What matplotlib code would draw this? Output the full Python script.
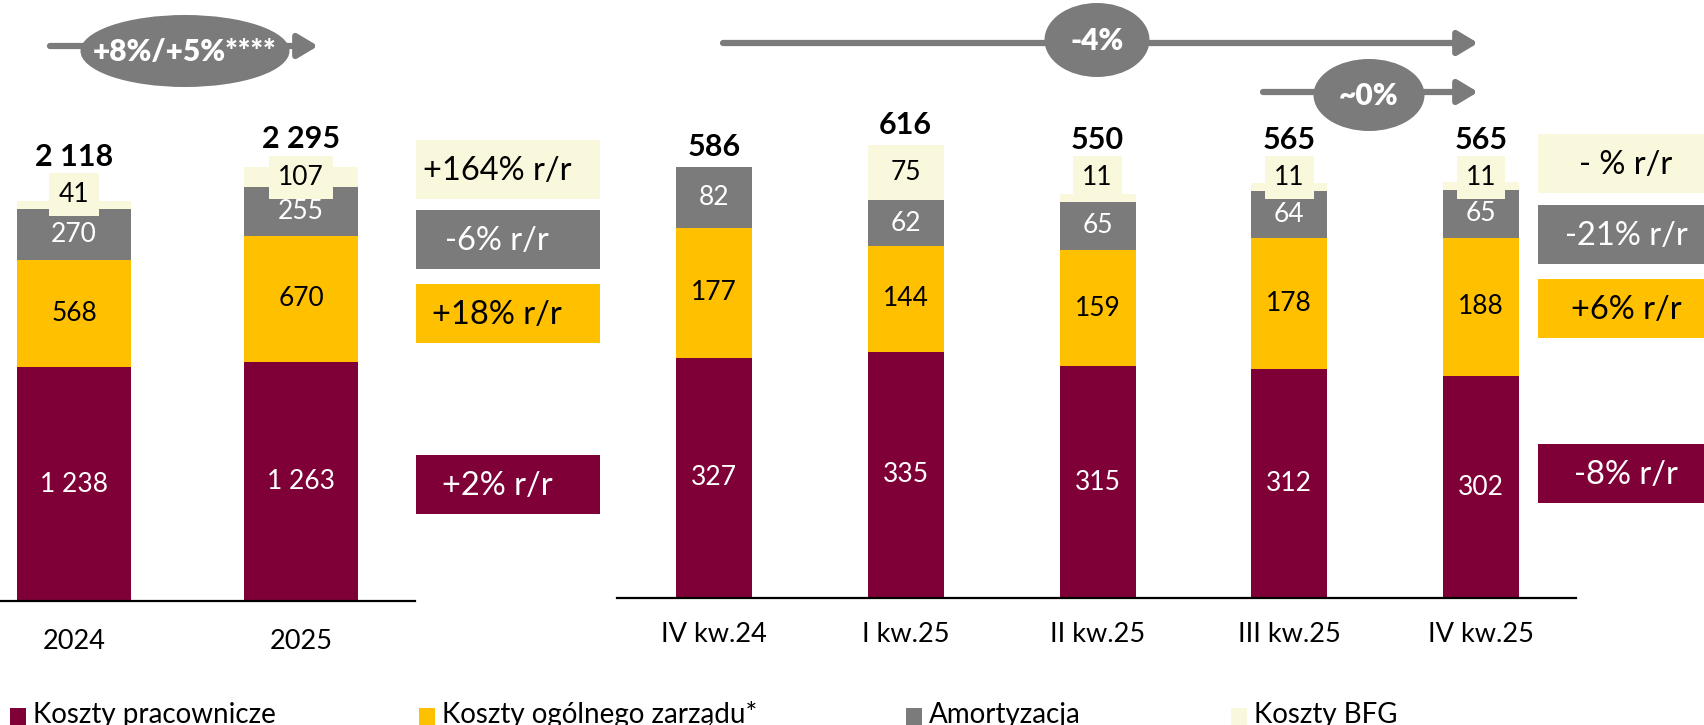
import matplotlib
matplotlib.use("Agg")
import matplotlib.pyplot as plt
from matplotlib.patches import Ellipse, Rectangle

plt.rcParams['font.family'] = ['Lato', 'DejaVu Sans']

# yearly data
years = ['2024', '2025']
y_staff = [1238, 1263]
y_admin = [568, 670]
y_amort = [270, 255]
y_bfg = [41, 107]
y_total = [2118, 2295]

# quarterly data
quarters = ['IV kw.24', 'I kw.25', 'II kw.25', 'III kw.25', 'IV kw.25']
q_staff = [327, 335, 315, 312, 302]
q_admin = [177, 144, 159, 178, 188]
q_amort = [82, 62, 65, 64, 65]
q_bfg = [0, 75, 11, 11, 11]
q_total = [586, 616, 550, 565, 565]

series_names = ['Koszty pracownicze', 'Koszty ogólnego zarządu*', 'Amortyzacja', 'Koszty BFG']
# r/r changes, same order as series
yoy_year = ['+2% r/r', '+18% r/r', '-6% r/r', '+164% r/r']
yoy_quarter = ['-8% r/r', '+6% r/r', '-21% r/r', '- % r/r']
trend_year = '+8%/+5%****'
trend_q = '-4%'
trend_qq = '~0%'

MAROON = '#7f0037'
YELLOW = '#ffc000'
GREY = '#7b7b7b'
CREAM = '#f9f7dc'
colors = [MAROON, YELLOW, GREY, CREAM]
text_colors = ['white', 'black', 'white', 'black']

W, H = 1704, 725
fig = plt.figure(figsize=(W / 100, H / 100), dpi=100)


def px_rect(x0, y0, x1, y1):
    # pixel box (top-left origin) -> figure fraction
    return [x0 / W, 1 - y1 / H, (x1 - x0) / W, (y1 - y0) / H]


def fmt(v):
    return f"{v:,}".replace(",", " ")


def stacked(ax, labels, parts, totals, ppu, width, bfg_row, pad):
    n = len(labels)
    xs = list(range(n))
    bottom = [0] * n
    for k, vals in enumerate(parts):
        ax.bar(xs, vals, width, bottom=bottom, color=colors[k], linewidth=0, zorder=2)
        for i in xs:
            if k < 3:
                ax.text(i, bottom[i] + vals[i] / 2, fmt(vals[i]), ha='center', va='center',
                        color=text_colors[k], fontsize=19, zorder=4)
        if k < 3:
            bottom = [b + v for b, v in zip(bottom, vals)]
    bfg = parts[3]
    for i in xs:
        top = bottom[i] + bfg[i]
        ty = top + 20 / ppu
        if bfg[i] > 0:
            ly = max(bottom[i] + bfg[i] / 2, bfg_row)
            ax.text(i, ly, fmt(bfg[i]), ha='center', va='center', fontsize=19, color='black',
                    zorder=5, bbox=dict(boxstyle='square,pad=0.35', fc=CREAM, ec='none'))
            ty = max(ty, ly + 38 / ppu)
        ax.text(i, ty, fmt(totals[i]), ha='center', va='center', fontsize=22,
                fontweight='bold', color='black', zorder=5)
    ax.set_xticks(xs, labels, fontsize=19.5)
    ax.tick_params(axis='x', length=0, pad=pad)
    ax.set_yticks([])
    for s in ['left', 'right', 'top']:
        ax.spines[s].set_visible(False)
    ax.spines['bottom'].set_linewidth(1.6)
    ax.set_facecolor('none')


# yearly panel
ax1 = fig.add_axes(px_rect(0, 0, 415, 601))
ppu1 = 0.189
ax1.set_ylim(0, 601 / ppu1)
ax1.set_xlim(-74 / 227, (415 - 74) / 227)
stacked(ax1, years, [y_staff, y_admin, y_amort, y_bfg], y_total, ppu1, 114 / 227, 2150, 20)

# quarterly panel
ax2 = fig.add_axes(px_rect(617, 0, 1576, 598))
ppu2 = 0.735
ax2.set_ylim(0, 598 / ppu2)
ax2.set_xlim(-97 / 191.75, (1576 - 714) / 191.75)
stacked(ax2, quarters, [q_staff, q_admin, q_amort, q_bfg], q_total, ppu2, 76 / 191.75, 572, 17)

# overlay in pixel coordinates
ov = fig.add_axes([0, 0, 1, 1])
ov.set_xlim(0, W)
ov.set_ylim(H, 0)
ov.axis('off')

# r/r boxes
left_tops = [455, 284, 210, 140]
right_tops = [444, 279, 205, 134]
for k in range(4):
    ov.add_patch(Rectangle((416, left_tops[k]), 184, 59, color=colors[k], lw=0))
    ov.text(497, left_tops[k] + 31, yoy_year[k], ha='center', va='center',
            fontsize=23.5, color=text_colors[k])
    ov.add_patch(Rectangle((1538, right_tops[k]), 166, 59, color=colors[k], lw=0))
    ov.text(1626, right_tops[k] + 31, yoy_quarter[k], ha='center', va='center',
            fontsize=23.5, color=text_colors[k])

# trend arrows
arrows = [((50, 46), (318, 46)), ((723, 43), (1478, 43)), ((1263, 92), (1478, 92))]
for a, b in arrows:
    ov.annotate('', xy=b, xytext=a,
                arrowprops=dict(arrowstyle='-|>,head_length=0.6,head_width=0.36',
                                mutation_scale=20, lw=4.5, color=GREY,
                                shrinkA=0, shrinkB=0))
bubbles = [((185, 51), 209, 72, trend_year), ((1097, 40), 105, 74, trend_q),
           ((1369, 95), 111, 72, trend_qq)]
for c, w, h, t in bubbles:
    ov.add_patch(Ellipse(c, w, h, color=GREY, lw=0))
    ov.text(c[0], c[1] + 1, t, ha='center', va='center', fontsize=21.5,
            fontweight='heavy', color='white')

# legend
leg_x = [10, 419, 906, 1231]
for k in range(4):
    ov.add_patch(Rectangle((leg_x[k], 708), 16, 20, color=colors[k], lw=0))
    ov.text(leg_x[k] + 23, 723, series_names[k], ha='left', va='baseline',
            fontsize=20, color='black')

fig.savefig('out.png', dpi=100)
